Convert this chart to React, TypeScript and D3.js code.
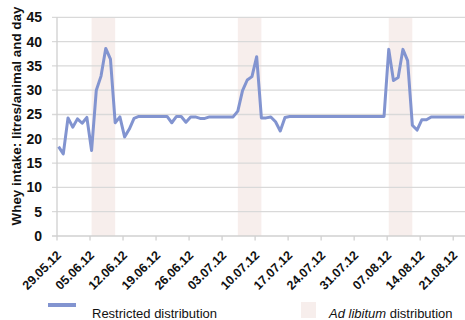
import { useRef, useEffect } from 'react';
import * as d3 from 'd3';

// Whey intake per day (litres/animal), one value per day from 29.05.12
const startDate = "29.05.12";
const wheyIntake = [
  18.4, 16.9, 24.3, 22.4, 24.1, 23.2, 24.4, 17.6, 30.0, 32.9,
  38.6, 36.4, 23.3, 24.5, 20.4, 22.0, 24.2, 24.6, 24.6, 24.6,
  24.6, 24.6, 24.6, 24.6, 23.3, 24.6, 24.6, 23.4, 24.5, 24.5,
  24.2, 24.2, 24.5, 24.5, 24.5, 24.5, 24.5, 24.5, 25.7, 29.9,
  32.1, 32.8, 36.9, 24.3, 24.3, 24.5, 23.5, 21.6, 24.4, 24.6,
  24.6, 24.6, 24.6, 24.6, 24.6, 24.6, 24.6, 24.6, 24.6, 24.6,
  24.6, 24.6, 24.6, 24.6, 24.6, 24.6, 24.6, 24.6, 24.6, 24.6,
  38.4, 32.0, 32.6, 38.4, 36.1, 22.8, 21.8, 23.9, 23.9, 24.5,
  24.5, 24.5, 24.5, 24.5, 24.5, 24.5, 24.5
];

// Ad libitum periods: first day, length in days
const adLibStarts = ["05.06.12", "06.07.12", "07.08.12"];
const adLibDays = [5, 5, 5];

const xTickLabels = [
  "29.05.12", "05.06.12", "12.06.12", "19.06.12", "26.06.12", "03.07.12", "10.07.12",
  "17.07.12", "24.07.12", "31.07.12", "07.08.12", "14.08.12", "21.08.12"
];
const yTicks = [0, 5, 10, 15, 20, 25, 30, 35, 40, 45];

export default function App() {
  const ref = useRef<SVGSVGElement>(null);

  useEffect(() => {
    if (!ref.current) return;
    const width = 465;
    const height = 320;
    const margin = { top: 17.3, right: 0, bottom: 84, left: 57 };
    const font = "'Liberation Sans', Arial, sans-serif";
    const lineColor = "#8294d0";

    const svg = d3.select(ref.current)
      .attr('width', width)
      .attr('height', height);
    svg.selectAll("*").remove();

    const parse = d3.timeParse("%d.%m.%y");
    const start = parse(startDate)!;
    // points sit a little past midnight, like Excel's date axis
    const shift = (d: Date) => d3.timeHour.offset(d, 8);

    const x = d3.scaleTime()
      .domain([start, d3.timeHour.offset(start, 86.5 * 24)])
      .range([margin.left, width - margin.right]);

    const y = d3.scaleLinear()
      .domain([0, 45])
      .range([height - margin.bottom, margin.top]);

    // Ad libitum bands
    svg.selectAll(".band")
      .data(adLibStarts.map((s, i) => ({ from: parse(s)!, days: adLibDays[i] })))
      .join("rect")
      .attr("class", "band")
      .attr("x", d => x(shift(d.from)))
      .attr("width", d => x(shift(d3.timeDay.offset(d.from, d.days))) - x(shift(d.from)))
      .attr("y", y(45))
      .attr("height", y(0) - y(45))
      .attr("fill", "#f7eeec");

    // gridlines + y ticks
    svg.append("g")
      .selectAll("line")
      .data(yTicks.filter(t => t > 0))
      .join("line")
      .attr("x1", margin.left - 5)
      .attr("x2", width - margin.right)
      .attr("y1", d => y(d))
      .attr("y2", d => y(d))
      .attr("stroke", "#d9d9d9")
      .attr("stroke-width", 1.3);

    // axes lines
    svg.append("line")
      .attr("x1", margin.left).attr("x2", margin.left)
      .attr("y1", y(45)).attr("y2", y(0))
      .attr("stroke", "#d0d0d0").attr("stroke-width", 1.3);
    svg.append("line")
      .attr("x1", margin.left - 5).attr("x2", width)
      .attr("y1", y(0)).attr("y2", y(0))
      .attr("stroke", "#d0d0d0").attr("stroke-width", 1.3);

    // y labels
    svg.append("g")
      .selectAll("text")
      .data(yTicks)
      .join("text")
      .attr("x", 42)
      .attr("y", d => y(d))
      .attr("dy", "0.35em")
      .attr("text-anchor", "end")
      .style("font-family", font)
      .style("font-weight", "bold")
      .style("font-size", "14px")
      .attr("fill", "#111")
      .text(d => d);

    // x ticks + labels
    const xTicks = xTickLabels.map(l => ({ label: l, date: parse(l)! }));
    svg.append("g")
      .selectAll("line")
      .data(xTicks)
      .join("line")
      .attr("x1", d => x(d.date))
      .attr("x2", d => x(d.date))
      .attr("y1", y(0))
      .attr("y2", y(0) + 4.5)
      .attr("stroke", "#d0d0d0")
      .attr("stroke-width", 1.3);

    svg.append("g")
      .selectAll("text")
      .data(xTicks)
      .join("text")
      .attr("transform", d => `translate(${x(d.date) + 5},${y(0) + 20}) rotate(-45)`)
      .attr("text-anchor", "end")
      .style("font-family", font)
      .style("font-weight", "bold")
      .style("font-size", "12.5px")
      .attr("fill", "#111")
      .text(d => d.label);

    // the line
    const line = d3.line<number>()
      .x((_, i) => x(shift(d3.timeDay.offset(start, i))))
      .y(d => y(d));

    svg.append("path")
      .datum(wheyIntake)
      .attr("fill", "none")
      .attr("stroke", lineColor)
      .attr("stroke-width", 3)
      .attr("stroke-linejoin", "round")
      .attr("d", line);

    // y title
    svg.append("text")
      .attr("transform", `translate(21,116) rotate(-90)`)
      .attr("text-anchor", "middle")
      .style("font-family", font)
      .style("font-weight", "bold")
      .style("font-size", "13.4px")
      .attr("fill", "#111")
      .text("Whey intake: litres/animal and day");

    // legend
    svg.append("line")
      .attr("x1", 48).attr("x2", 76)
      .attr("y1", 305).attr("y2", 305)
      .attr("stroke", lineColor)
      .attr("stroke-width", 4);
    svg.append("text")
      .attr("x", 92).attr("y", 318)
      .style("font-family", font)
      .style("font-size", "13px")
      .attr("fill", "#111")
      .text("Restricted distribution");

    svg.append("rect")
      .attr("x", 301).attr("y", 302)
      .attr("width", 15).attr("height", 16)
      .attr("fill", "#f7eeec");
    const t = svg.append("text")
      .attr("x", 329).attr("y", 318)
      .style("font-family", font)
      .style("font-size", "13px")
      .attr("fill", "#111");
    t.append("tspan").style("font-style", "italic").text("Ad libitum");
    t.append("tspan").text(" distribution");
  }, []);

  return (
    <div style={{ position: 'absolute', left: 0, top: 0 }}>
      <svg ref={ref}></svg>
    </div>
  );
}
